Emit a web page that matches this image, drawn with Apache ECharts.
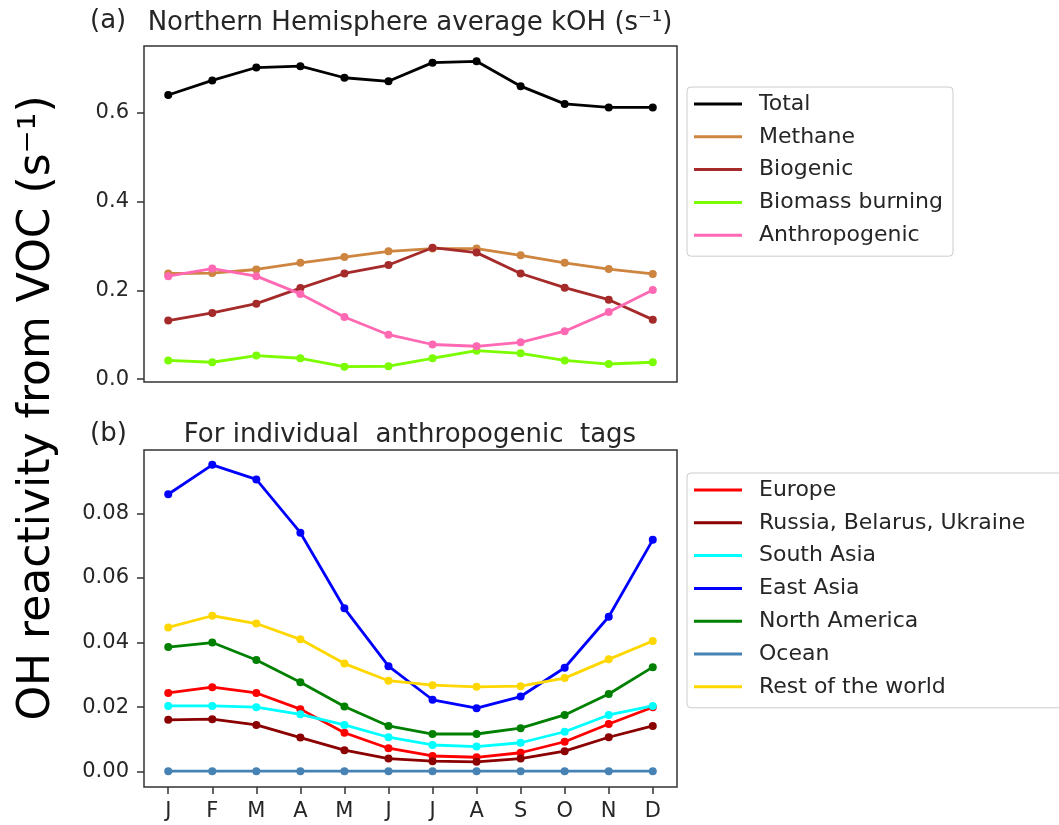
<!DOCTYPE html>
<html>
<head>
<meta charset="utf-8">
<script src="https://cdn.jsdelivr.net/npm/echarts@6/dist/echarts.min.js"></script>
<style>
html,body{margin:0;padding:0;background:#fff;}
#chart{width:1059px;height:825px;}
</style>
</head>
<body>
<div id="chart"></div>
<script>
const months = ['J','F','M','A','M','J','J','A','S','O','N','D'];

// Panel (a): Northern Hemisphere average kOH (s^-1)
const total         = [0.640, 0.673, 0.702, 0.705, 0.679, 0.671, 0.713, 0.716, 0.660, 0.620, 0.612, 0.612];
const methane       = [0.238, 0.239, 0.247, 0.262, 0.275, 0.288, 0.294, 0.294, 0.279, 0.262, 0.248, 0.237];
const biogenic      = [0.132, 0.149, 0.170, 0.205, 0.238, 0.257, 0.296, 0.285, 0.238, 0.206, 0.179, 0.134];
const biomass       = [0.042, 0.038, 0.053, 0.047, 0.028, 0.029, 0.047, 0.064, 0.058, 0.042, 0.034, 0.038];
const anthropogenic = [0.232, 0.249, 0.232, 0.192, 0.140, 0.100, 0.078, 0.074, 0.083, 0.108, 0.151, 0.201];

// Panel (b): individual anthropogenic tags
const europe       = [0.0244, 0.0262, 0.0244, 0.0194, 0.0121, 0.0073, 0.0049, 0.0045, 0.0059, 0.0093, 0.0148, 0.0200];
const russia       = [0.0161, 0.0163, 0.0145, 0.0106, 0.0067, 0.0041, 0.0033, 0.0031, 0.0041, 0.0064, 0.0107, 0.0142];
const southAsia    = [0.0204, 0.0204, 0.0200, 0.0178, 0.0145, 0.0107, 0.0083, 0.0078, 0.0090, 0.0124, 0.0176, 0.0204];
const eastAsia     = [0.0859, 0.0950, 0.0905, 0.0740, 0.0506, 0.0327, 0.0223, 0.0197, 0.0233, 0.0322, 0.0480, 0.0718];
const northAmerica = [0.0386, 0.0400, 0.0346, 0.0277, 0.0202, 0.0142, 0.0117, 0.0117, 0.0135, 0.0176, 0.0241, 0.0324];
const ocean        = [0.0002, 0.0002, 0.0002, 0.0002, 0.0002, 0.0002, 0.0002, 0.0002, 0.0002, 0.0002, 0.0002, 0.0002];
const restOfWorld  = [0.0447, 0.0483, 0.0459, 0.0410, 0.0335, 0.0282, 0.0268, 0.0263, 0.0265, 0.0290, 0.0348, 0.0405];

const topTicks = [0.0, 0.2, 0.4, 0.6];
const bottomTicks = [0.00, 0.02, 0.04, 0.06, 0.08];

const topSeries = [
  {name:'Total', data: total, color:'#000000'},
  {name:'Methane', data: methane, color:'#CD853F'},
  {name:'Biogenic', data: biogenic, color:'#A52A2A'},
  {name:'Biomass burning', data: biomass, color:'#7CFC00'},
  {name:'Anthropogenic', data: anthropogenic, color:'#FF69B4'}
];
const bottomSeries = [
  {name:'Europe', data: europe, color:'#FF0000'},
  {name:'Russia, Belarus, Ukraine', data: russia, color:'#8B0000'},
  {name:'South Asia', data: southAsia, color:'#00FFFF'},
  {name:'East Asia', data: eastAsia, color:'#0000FF'},
  {name:'North America', data: northAmerica, color:'#008000'},
  {name:'Ocean', data: ocean, color:'#4682B4'},
  {name:'Rest of the world', data: restOfWorld, color:'#FFD700'}
];

const FONT = '"DejaVu Sans", sans-serif';
const TXT = '#262626';
const AX = '#333333';
const idx = months.map((m, i) => i);

function mkSeries(s, gi) {
  return {
    type: 'line', name: s.name, xAxisIndex: gi, yAxisIndex: gi,
    data: s.data.map((v, i) => [i, v]),
    symbol: 'circle', symbolSize: 8, showSymbol: true,
    itemStyle: {color: s.color},
    lineStyle: {color: s.color, width: 2.8},
    emphasis: {disabled: true},
    animation: false
  };
}

const legendCommon = {
  orient: 'vertical', icon: 'rect', itemWidth: 48, itemHeight: 3, itemGap: 10.8,
  borderColor: '#cccccc', borderWidth: 1, borderRadius: 4, backgroundColor: '#ffffff',
  textStyle: {fontFamily: FONT, fontSize: 22, color: TXT, lineHeight: 22, padding: [0,0,0,12]},
  selectedMode: false
};

const axisLineOff = {show: false, onZero: false};

const chart = echarts.init(document.getElementById('chart'), null, {renderer: 'canvas'});
chart.setOption({
  animation: false,
  backgroundColor: '#ffffff',
  grid: [
    {left: 144, top: 46, width: 533, height: 336, show: true, borderColor: AX, borderWidth: 1.5, containLabel: false},
    {left: 144, top: 450, width: 533, height: 337, show: true, borderColor: AX, borderWidth: 1.5, containLabel: false}
  ],
  xAxis: [
    {gridIndex: 0, type: 'value', min: -0.55, max: 11.55, position: 'bottom',
     axisLine: axisLineOff, axisTick: {show: false}, axisLabel: {show: false}, splitLine: {show: false}},
    {gridIndex: 1, type: 'value', min: -0.55, max: 11.55, position: 'bottom',
     axisLine: axisLineOff,
     axisTick: {show: true, inside: false, length: 7, customValues: idx, lineStyle: {color: AX, width: 1.5}},
     axisLabel: {show: true, customValues: idx, margin: 14, fontFamily: FONT, fontSize: 21, color: TXT,
                 formatter: v => months[Math.round(v)]},
     splitLine: {show: false}}
  ],
  yAxis: [
    {gridIndex: 0, type: 'value', min: -0.0065, max: 0.7505, position: 'left',
     axisLine: axisLineOff,
     axisTick: {show: true, inside: false, length: 7, customValues: topTicks, lineStyle: {color: AX, width: 1.5}},
     axisLabel: {show: true, customValues: topTicks, margin: 15, fontFamily: FONT, fontSize: 21, color: TXT,
                 formatter: v => v.toFixed(1)},
     splitLine: {show: false}},
    {gridIndex: 1, type: 'value', min: -0.0047, max: 0.0996, position: 'left',
     axisLine: axisLineOff,
     axisTick: {show: true, inside: false, length: 7, customValues: bottomTicks, lineStyle: {color: AX, width: 1.5}},
     axisLabel: {show: true, customValues: bottomTicks, margin: 15, fontFamily: FONT, fontSize: 21, color: TXT,
                 formatter: v => v.toFixed(2)},
     splitLine: {show: false}}
  ],
  legend: [
    Object.assign({}, legendCommon, {left: 687, top: 87, padding: [6, 10, 10, 7], data: topSeries.map(s => s.name)}),
    Object.assign({}, legendCommon, {left: 687, top: 473, padding: [6, 60, 10, 7], data: bottomSeries.map(s => s.name)})
  ],
  graphic: [
    {type: 'text', left: 90, top: 8, style: {text: '(a)', font: '26px ' + FONT, fill: TXT}},
    {type: 'text', x: 410, y: 23, style: {text: 'Northern Hemisphere average kOH (s\u207B\u00B9)', font: '26px ' + FONT, fill: TXT,
      textAlign: 'center', textVerticalAlign: 'middle', align: 'center', verticalAlign: 'middle'}},
    {type: 'text', left: 90, top: 421, style: {text: '(b)', font: '26px ' + FONT, fill: TXT}},
    {type: 'text', x: 410, y: 435, style: {text: 'For individual  anthropogenic  tags', font: '26px ' + FONT, fill: TXT,
      textAlign: 'center', textVerticalAlign: 'middle', align: 'center', verticalAlign: 'middle'}},
    {type: 'text', x: 38, y: 408, rotation: Math.PI / 2,
     style: {text: 'OH reactivity from VOC (s\u207B\u00B9)', font: '44px ' + FONT, fill: '#000000',
      textAlign: 'center', textVerticalAlign: 'middle', align: 'center', verticalAlign: 'middle'}}
  ],
  series: topSeries.map(s => mkSeries(s, 0)).concat(bottomSeries.map(s => mkSeries(s, 1)))
});
</script>
</body>
</html>
